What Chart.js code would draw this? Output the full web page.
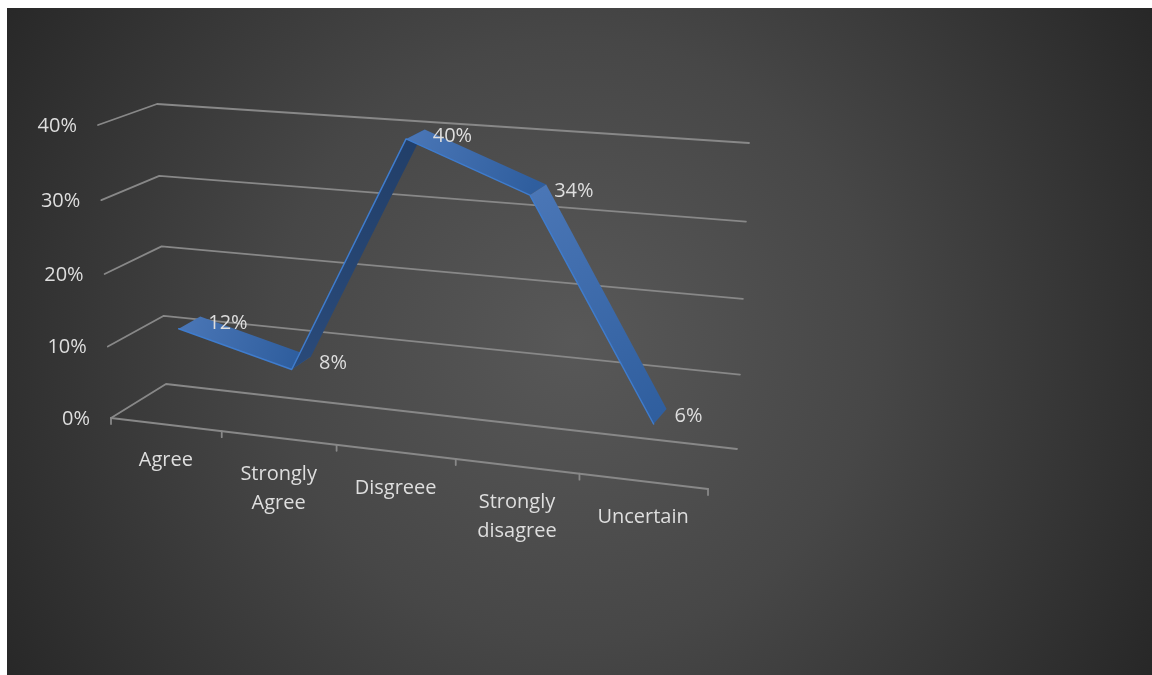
<!DOCTYPE html>
<html>
<head>
<meta charset="utf-8">
<script src="https://cdn.jsdelivr.net/npm/chart.js@4.4.1/dist/chart.umd.min.js"></script>
<style>
  html, body { margin: 0; padding: 0; background: #fff; overflow: hidden; }
  #wrap { position: absolute; left: 7px; top: 8px; width: 1145px; height: 667px; }
</style>
</head>
<body>
<div id="wrap"><canvas id="opinionChart"></canvas></div>
<script>
const categories = ['Agree', ['Strongly', 'Agree'], 'Disgreee', ['Strongly', 'disagree'], 'Uncertain'];
const shares = [12, 8, 40, 34, 6];
const yTicks = [0, 10, 20, 30, 40];

const FONT = "'Open Sans', sans-serif";
const TEXT = '#dedede';
const GRID = '#888888';

// corners of the 3d box: front wall and back wall (left-bottom, right-bottom, right-top, left-top)
const frontQuad = [[104, 410], [701, 481], [709, 161], [91, 117]];
const backQuad = [[159, 376], [730, 441], [742, 135], [150, 96]];
const RIBBON_NEAR = 0.3, RIBBON_FAR = 0.7;

function quadMap(p0, p1, p2, p3) {
    const dx1 = p1[0] - p2[0], dx2 = p3[0] - p2[0], dx3 = p0[0] - p1[0] + p2[0] - p3[0];
    const dy1 = p1[1] - p2[1], dy2 = p3[1] - p2[1], dy3 = p0[1] - p1[1] + p2[1] - p3[1];
    const den = dx1 * dy2 - dx2 * dy1;
    const g = (dx3 * dy2 - dx2 * dy3) / den;
    const h = (dx1 * dy3 - dx3 * dy1) / den;
    const a = p1[0] - p0[0] + g * p1[0], b = p3[0] - p0[0] + h * p3[0], c = p0[0];
    const d = p1[1] - p0[1] + g * p1[1], e = p3[1] - p0[1] + h * p3[1], f = p0[1];
    return (u, v) => {
        const w = g * u + h * v + 1;
        return [(a * u + b * v + c) / w, (d * u + e * v + f) / w];
    };
}

const front = quadMap(...frontQuad);
const back = quadMap(...backQuad);

function project(s, t, depth) {
    const f = front(s, t), b = back(s, t);
    return [f[0] + (b[0] - f[0]) * depth, f[1] + (b[1] - f[1]) * depth];
}

function line(ctx, pts) {
    ctx.beginPath();
    ctx.moveTo(pts[0][0], pts[0][1]);
    for (let i = 1; i < pts.length; i++) ctx.lineTo(pts[i][0], pts[i][1]);
    ctx.stroke();
}

const perspective3d = {
    id: 'perspective3d',
    beforeDraw(chart) {
        const { ctx, width, height } = chart;
        const bg = ctx.createRadialGradient(568, 332, 0, 568, 332, 670);
        bg.addColorStop(0, '#585858');
        bg.addColorStop(0.45, '#474747');
        bg.addColorStop(1, '#272727');
        ctx.save();
        ctx.fillStyle = bg;
        ctx.fillRect(0, 0, width, height);
        ctx.restore();
    },
    afterDatasetsDraw(chart) {
        const { ctx, chartArea: area } = chart;
        const xs = chart.scales.x, ys = chart.scales.y;
        const sOf = px => (px - area.left) / (area.right - area.left);
        const tOf = py => (area.bottom - py) / (area.bottom - area.top);

        ctx.save();
        ctx.lineCap = 'round';
        ctx.lineJoin = 'round';

        // walls and floor
        ctx.strokeStyle = GRID;
        ctx.lineWidth = 1.8;
        yTicks.forEach(v => {
            const t = tOf(ys.getPixelForValue(v));
            line(ctx, [project(0, t, 0), project(0, t, 1), project(1, t, 1)]);
        });
        line(ctx, [project(0, 0, 0), project(1, 0, 0)]);
        for (let b = 0; b <= categories.length; b++) {
            const p = project(sOf(xs.getPixelForValue(b - 0.5)), 0, 0);
            line(ctx, [p, [p[0], p[1] + 6]]);
        }

        // value axis labels
        ctx.fillStyle = TEXT;
        ctx.font = `20px ${FONT}`;
        ctx.textAlign = 'right';
        ctx.textBaseline = 'middle';
        yTicks.forEach(v => {
            const p = project(0, tOf(ys.getPixelForValue(v)), 0);
            ctx.fillText(v + '%', p[0] - 21, p[1] + 1);
        });

        // category labels
        ctx.textAlign = 'center';
        categories.forEach((c, i) => {
            const p = project(sOf(xs.getPixelForValue(i)), 0, 0);
            const rows = Array.isArray(c) ? c : [c];
            rows.forEach((r, k) => ctx.fillText(r, p[0], p[1] + 36 + k * 29));
        });

        // ribbon
        const pts = chart.getDatasetMeta(0).data;
        const near = pts.map(pt => project(sOf(pt.x), tOf(pt.y), RIBBON_NEAR));
        const far = pts.map(pt => project(sOf(pt.x), tOf(pt.y), RIBBON_FAR));
        for (let i = 0; i < pts.length - 1; i++) {
            const a = near[i], b = near[i + 1], c = far[i + 1], d = far[i];
            const cross = (b[0] - a[0]) * (d[1] - a[1]) - (b[1] - a[1]) * (d[0] - a[0]);
            const grad = ctx.createLinearGradient(a[0], a[1], b[0], b[1]);
            if (cross < 0) {
                grad.addColorStop(0, '#4a76b6');
                grad.addColorStop(1, '#2f5e9e');
            } else {
                grad.addColorStop(0, '#2a4a79');
                grad.addColorStop(1, '#223f69');
            }
            ctx.fillStyle = grad;
            ctx.beginPath();
            ctx.moveTo(a[0], a[1]);
            ctx.lineTo(b[0], b[1]);
            ctx.lineTo(c[0], c[1]);
            ctx.lineTo(d[0], d[1]);
            ctx.closePath();
            ctx.fill();
        }
        ctx.strokeStyle = '#3f7ccd';
        ctx.lineWidth = 1.5;
        line(ctx, near);

        // value labels
        ctx.fillStyle = TEXT;
        ctx.textAlign = 'left';
        ctx.textBaseline = 'middle';
        shares.forEach((v, i) => ctx.fillText(v + '%', far[i][0] + 8, far[i][1] + 7));

        ctx.restore();
    }
};

new Chart(document.getElementById('opinionChart'), {
    type: 'line',
    data: {
        labels: categories,
        datasets: [{ label: 'Responses', data: shares, showLine: false, pointRadius: 0, pointHoverRadius: 0 }]
    },
    options: {
        responsive: true, maintainAspectRatio: false, animation: false, events: [],
        layout: { padding: 0 },
        plugins: { legend: { display: false }, tooltip: { enabled: false } },
        scales: {
            x: { type: 'category', offset: true, display: false },
            y: { min: 0, max: 40, ticks: { stepSize: 10 }, display: false }
        }
    },
    plugins: [perspective3d]
});
</script>
</body>
</html>
